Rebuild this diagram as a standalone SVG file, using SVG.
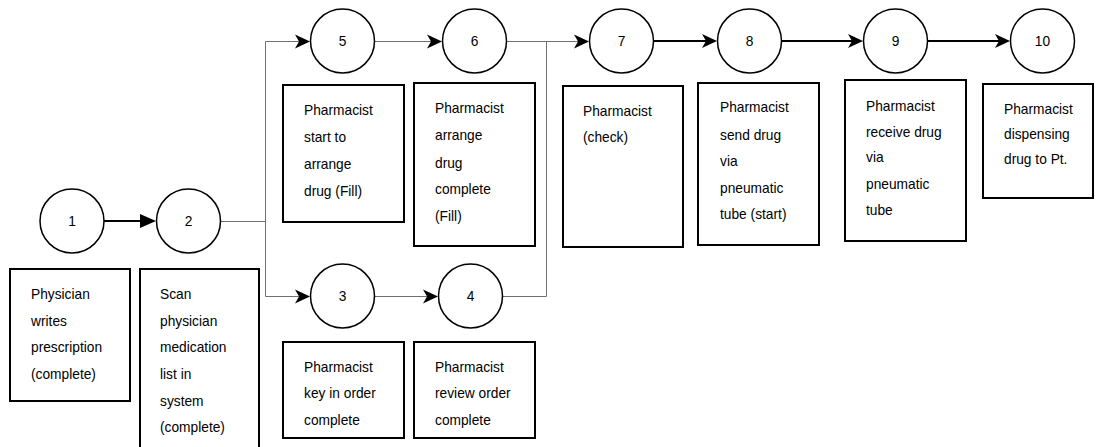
<svg xmlns="http://www.w3.org/2000/svg" width="1097" height="447" viewBox="0 0 1097 447">
<style>
.c{fill:#fff;stroke:#000;stroke-width:1.5}
.b{fill:#fff;stroke:#000;stroke-width:2}
.t{font-family:"Liberation Sans",Arial,sans-serif;font-size:13.75px;fill:#000}
.n{font-family:"Liberation Sans",Arial,sans-serif;font-size:13.75px;fill:#000;text-anchor:middle}
.thin{fill:none;stroke:#6f6f6f;stroke-width:1}
.thick{fill:none;stroke:#000;stroke-width:2}
</style>
<defs>
<marker id="cls" markerUnits="userSpaceOnUse" markerWidth="16" markerHeight="15" refX="11" refY="7" orient="auto" overflow="visible">
<path d="M0,0 L15,7 L0,14 L4,7 Z" fill="#000"/>
</marker>
<marker id="blk" markerUnits="userSpaceOnUse" markerWidth="17" markerHeight="15" refX="12" refY="7" orient="auto" overflow="visible">
<path d="M0,0 L16,7 L0,14 Z" fill="#000"/>
</marker>
</defs>
<g id="connectors">
<path class="thick" d="M104,221 H152" marker-end="url(#blk)"/>
<path class="thin" d="M221,221.5 H265.5 V41.5 H306" marker-end="url(#cls)"/>
<path class="thin" d="M265.5,221.5 V296.5 H306" marker-end="url(#cls)"/>
<path class="thin" d="M375,41.5 H438" marker-end="url(#cls)"/>
<path class="thin" d="M375,296.5 H434" marker-end="url(#cls)"/>
<path class="thin" d="M507,41.5 H585" marker-end="url(#cls)"/>
<path class="thin" d="M503,296.5 H546.5 V41.5"/>
<path class="thick" d="M654,41 H713" marker-end="url(#cls)"/>
<path class="thick" d="M782,41 H859" marker-end="url(#cls)"/>
<path class="thick" d="M928,41 H1006" marker-end="url(#cls)"/>
</g>
<g id="n1"><circle class="c" cx="72" cy="221" r="32"/><text class="n" x="72" y="226">1</text></g>
<g id="n2"><circle class="c" cx="188.5" cy="221" r="32"/><text class="n" x="188.5" y="226">2</text></g>
<g id="n3"><circle class="c" cx="342.5" cy="296" r="32"/><text class="n" x="342.5" y="301">3</text></g>
<g id="n4"><circle class="c" cx="470.5" cy="296" r="32"/><text class="n" x="470.5" y="301">4</text></g>
<g id="n5"><circle class="c" cx="342.5" cy="41" r="32"/><text class="n" x="342.5" y="46">5</text></g>
<g id="n6"><circle class="c" cx="474.5" cy="41" r="32"/><text class="n" x="474.5" y="46">6</text></g>
<g id="n7"><circle class="c" cx="621.5" cy="41" r="32"/><text class="n" x="621.5" y="46">7</text></g>
<g id="n8"><circle class="c" cx="749.5" cy="41" r="32"/><text class="n" x="749.5" y="46">8</text></g>
<g id="n9"><circle class="c" cx="895.5" cy="41" r="32"/><text class="n" x="895.5" y="46">9</text></g>
<g id="n10"><circle class="c" cx="1042.5" cy="41" r="32"/><text class="n" x="1042.5" y="46">10</text></g>
<g id="b1"><rect class="b" x="10" y="269" width="120" height="132"/>
<text class="t" x="31" y="299">Physician</text><text class="t" x="31" y="325.7">writes</text><text class="t" x="31" y="352.3">prescription</text><text class="t" x="31" y="379">(complete)</text></g>
<g id="b2"><rect class="b" x="140" y="269" width="119" height="185"/>
<text class="t" x="160" y="299">Scan</text><text class="t" x="160" y="325.7">physician</text><text class="t" x="160" y="352.3">medication</text><text class="t" x="160" y="379">list in</text><text class="t" x="160" y="405.7">system</text><text class="t" x="160" y="432.3">(complete)</text></g>
<g id="b5"><rect class="b" x="283" y="85" width="121" height="137"/>
<text class="t" x="304" y="115">Pharmacist</text><text class="t" x="304" y="142">start to</text><text class="t" x="304" y="169">arrange</text><text class="t" x="304" y="196">drug (Fill)</text></g>
<g id="b6"><rect class="b" x="414" y="83" width="121" height="163"/>
<text class="t" x="435" y="113">Pharmacist</text><text class="t" x="435" y="140.3">arrange</text><text class="t" x="435" y="167.5">drug</text><text class="t" x="435" y="194">complete</text><text class="t" x="435" y="221">(Fill)</text></g>
<g id="b3"><rect class="b" x="283" y="342" width="121" height="96"/>
<text class="t" x="304" y="372">Pharmacist</text><text class="t" x="304" y="398.3">key in order</text><text class="t" x="304" y="425">complete</text></g>
<g id="b4"><rect class="b" x="414" y="342" width="121" height="96"/>
<text class="t" x="435" y="372">Pharmacist</text><text class="t" x="435" y="398.3">review order</text><text class="t" x="435" y="425">complete</text></g>
<g id="b7"><rect class="b" x="563" y="86" width="120" height="161"/>
<text class="t" x="583" y="116">Pharmacist</text><text class="t" x="583" y="142">(check)</text></g>
<g id="b8"><rect class="b" x="698" y="83" width="121" height="162"/>
<text class="t" x="720" y="112">Pharmacist</text><text class="t" x="720" y="139.5">send drug</text><text class="t" x="720" y="166">via</text><text class="t" x="720" y="192.5">pneumatic</text><text class="t" x="720" y="219">tube (start)</text></g>
<g id="b9"><rect class="b" x="845" y="80" width="121" height="161"/>
<text class="t" x="866" y="111">Pharmacist</text><text class="t" x="866" y="136.5">receive drug</text><text class="t" x="866" y="162">via</text><text class="t" x="866" y="188.5">pneumatic</text><text class="t" x="866" y="215">tube</text></g>
<g id="b10"><rect class="b" x="983" y="84" width="110" height="114"/>
<text class="t" x="1004" y="114">Pharmacist</text><text class="t" x="1004" y="139">dispensing</text><text class="t" x="1004" y="164">drug to Pt.</text></g>
</svg>
